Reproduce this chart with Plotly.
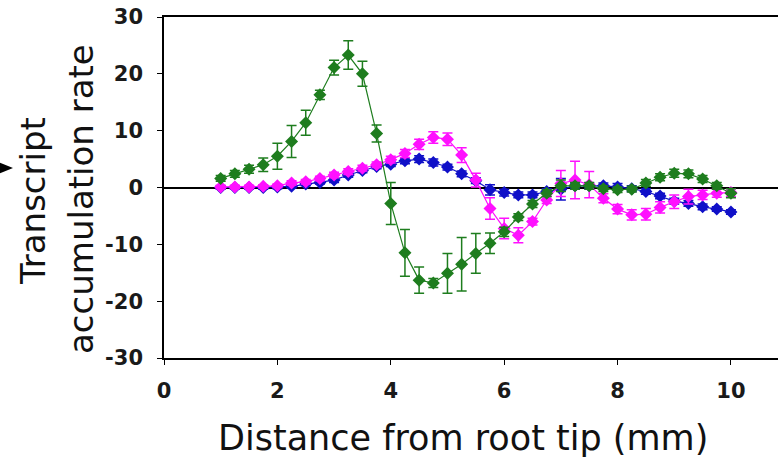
import plotly.graph_objects as go

distance_mm = [1.0, 1.25, 1.5, 1.75, 2.0, 2.25, 2.5, 2.75, 3.0, 3.25, 3.5, 3.75,
               4.0, 4.25, 4.5, 4.75, 5.0, 5.25, 5.5, 5.75, 6.0, 6.25, 6.5, 6.75,
               7.0, 7.25, 7.5, 7.75, 8.0, 8.25, 8.5, 8.75, 9.0, 9.25, 9.5, 9.75, 10.0]

green_vals = [1.6, 2.4, 3.2, 4.0, 5.5, 8.1, 11.4, 16.3, 21.1, 23.3, 20.0, 9.5,
              -2.8, -11.5, -16.3, -16.8, -15.1, -13.5, -11.6, -9.8, -7.8, -5.2, -2.9, -1.0,
              0.3, 0.3, 0.3, -0.2, -0.4, -0.3, 0.8, 1.8, 2.5, 2.4, 1.5, 0.3, -1.0]
green_err = [0.5, 0.6, 0.7, 1.2, 2.3, 2.8, 2.2, 0.8, 1.3, 2.5, 2.2, 1.5,
             3.7, 4.1, 2.3, 0.8, 3.5, 4.7, 3.5, 1.8, 0.8, 0.6, 0.6, 0.6,
             1.0, 0.6, 0.6, 0.5, 0.5, 0.5, 0.6, 0.6, 0.7, 0.7, 0.6, 0.6, 0.8]

blue_vals = [0.0, 0.0, 0.0, 0.0, 0.1, 0.2, 0.6, 0.9, 1.3, 2.2, 3.0, 3.7,
             4.1, 4.7, 5.0, 4.4, 3.6, 2.4, 1.2, -0.4, -0.9, -1.3, -1.3, -0.7,
             -0.3, 0.3, 0.3, 0.3, 0.1, -0.2, -0.7, -1.5, -2.4, -2.8, -3.4, -3.8, -4.3]
blue_err = [0.3, 0.3, 0.3, 0.3, 0.3, 0.3, 0.3, 0.3, 0.4, 0.4, 0.4, 0.4,
            0.4, 0.5, 0.6, 0.6, 0.5, 0.5, 0.5, 0.9, 0.6, 0.5, 0.5, 0.5,
            1.9, 0.5, 0.5, 0.5, 0.6, 0.5, 0.5, 0.5, 0.5, 0.5, 0.5, 0.4, 0.4]

pink_vals = [0.1, 0.1, 0.1, 0.2, 0.3, 0.8, 1.0, 1.6, 2.2, 2.8, 3.4, 4.0,
             4.9, 6.0, 7.6, 8.8, 8.5, 5.7, 1.3, -3.7, -7.2, -8.4, -6.0, -2.2,
             0.7, 1.3, 0.5, -1.9, -3.8, -4.8, -4.7, -3.5, -2.5, -1.6, -1.3, -1.0, -0.9]
pink_err = [0.3, 0.3, 0.3, 0.3, 0.3, 0.4, 0.4, 0.4, 0.5, 0.5, 0.5, 0.5,
            0.6, 0.7, 0.9, 1.0, 1.1, 1.3, 1.2, 1.9, 1.8, 1.3, 0.6, 0.6,
            2.3, 3.3, 2.3, 0.8, 0.8, 0.9, 1.0, 1.0, 1.2, 1.3, 0.8, 0.7, 0.7]

x_ticks = [0, 2, 4, 6, 8, 10]
y_ticks = [-30, -20, -10, 0, 10, 20, 30]
y_tick_labels = ["-30", "-20", "-10", "0", "10", "20", "30"]

series = [
    (blue_vals, blue_err, "#1010c8"),
    (pink_vals, pink_err, "#ff10ff"),
    (green_vals, green_err, "#1e7d1e"),
]

fig = go.Figure()
for vals, err, col in series:
    fig.add_trace(go.Scatter(
        x=distance_mm, y=vals, mode="lines+markers",
        line=dict(color=col, width=1.2),
        marker=dict(symbol="diamond", size=10, color=col),
        error_y=dict(type="data", array=err, color=col, thickness=1.5, width=5),
        showlegend=False,
    ))

W, H = 778, 464
L, R, T, B = 164, 0, 17, 106
pw, ph = W - L - R, H - T - B

def px_x(p):
    return (p - L) / pw

def px_y(p):
    return (H - B - p) / ph

tick_font = dict(family="DejaVu Sans", size=21, color="#1a1a1a", weight="bold")
title_font_x = dict(family="DejaVu Sans", size=35, color="#111111")
title_font_y = dict(family="DejaVu Sans", size=34, color="#111111")

fig.update_layout(
    width=W, height=H,
    margin=dict(l=L, r=R, t=T, b=B, pad=0),
    paper_bgcolor="white", plot_bgcolor="white",
    xaxis=dict(range=[0, 10.83], tickvals=x_ticks, showgrid=False, zeroline=False,
               showline=True, linecolor="black", linewidth=1.5, mirror=True,
               ticks="outside", ticklen=5, tickcolor="black", tickwidth=1.2,
               tickfont=tick_font, ticklabelstandoff=8),
    yaxis=dict(range=[-30, 30], tickvals=y_ticks, ticktext=y_tick_labels, showgrid=False,
               zeroline=True, zerolinecolor="black", zerolinewidth=1.5,
               showline=True, linecolor="black", linewidth=1.5,
               ticks="outside", ticklen=5, tickcolor="black", tickwidth=1.2,
               tickfont=tick_font, ticklabelstandoff=10),
    annotations=[
        dict(text="Distance from root tip (mm)", xref="paper", yref="paper",
             x=px_x(463), y=px_y(438), xanchor="center", yanchor="middle",
             showarrow=False, font=title_font_x),
        dict(text="Transcript", xref="paper", yref="paper",
             x=px_x(33), y=px_y(201), xanchor="center", yanchor="middle",
             textangle=-90, showarrow=False, font=title_font_y),
        dict(text="accumulation rate", xref="paper", yref="paper",
             x=px_x(81), y=px_y(199), xanchor="center", yanchor="middle",
             textangle=-90, showarrow=False, font=title_font_y),
    ],
    shapes=[
        dict(type="path", xref="paper", yref="paper",
             path=f"M {px_x(-2)} {px_y(162)} L {px_x(13)} {px_y(168)} L {px_x(-2)} {px_y(174)} Z",
             fillcolor="black", line=dict(color="black", width=0)),
    ],
)

fig.write_html("out.html", config={"displayModeBar": False},
               post_script="document.body.style.margin='0px';")
